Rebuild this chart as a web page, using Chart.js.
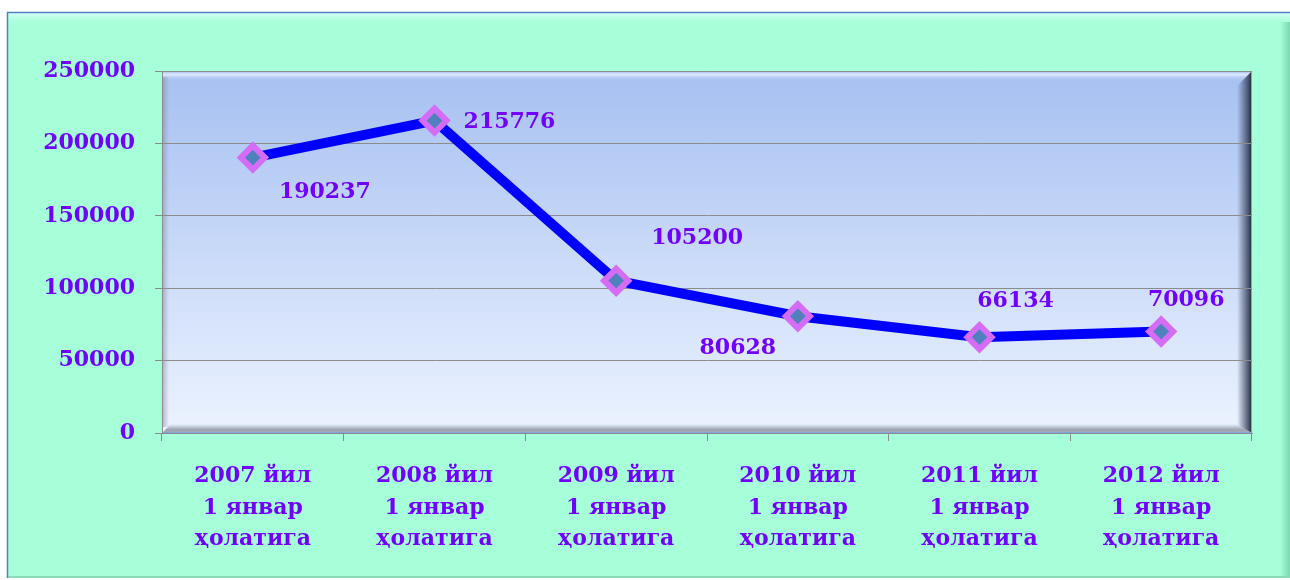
<!DOCTYPE html>
<html>
<head>
<meta charset="utf-8">
<script src="https://cdn.jsdelivr.net/npm/chart.js@4/dist/chart.umd.min.js"></script>
<style>
  html, body { margin: 0; padding: 0; background: #fff; }
  #wrap { width: 1290px; height: 580px; position: relative; }
</style>
</head>
<body>
<div id="wrap"><canvas id="chart" width="1290" height="580"></canvas></div>
<script>
// ------------------------------------------------------------
// data
// ------------------------------------------------------------
var categories = [
  ['2007 йил', '1 январ', 'ҳолатига'],
  ['2008 йил', '1 январ', 'ҳолатига'],
  ['2009 йил', '1 январ', 'ҳолатига'],
  ['2010 йил', '1 январ', 'ҳолатига'],
  ['2011 йил', '1 январ', 'ҳолатига'],
  ['2012 йил', '1 январ', 'ҳолатига']
];
var values = [190237, 215776, 105200, 80628, 66134, 70096];
var yTicks = [0, 50000, 100000, 150000, 200000, 250000];

var TEXT = '#7200FF';
var FONT = 'bold 22px "DejaVu Serif"';

// label placement relative to each point (dx, dy in px)
var labelOffsets = [[72, 35], [75, 2], [81, -42], [-60, 32], [36, -36], [25, -31]];

// background frame + bevelled plot area
var framePlugin = {
  id: 'frame',
  beforeDraw: function(chart) {
    var c = chart.ctx, a = chart.chartArea, g;
    c.save();
    c.fillStyle = '#fff';
    c.fillRect(0, 0, chart.width, chart.height);

    // outer green panel
    c.fillStyle = '#A6FFD8';
    c.fillRect(7, 12, 1283, 566);
    g = c.createLinearGradient(0, 13, 0, 26);
    g.addColorStop(0, '#D8FFF6');
    g.addColorStop(1, 'rgba(166,255,216,0)');
    c.fillStyle = g;
    c.fillRect(8, 13, 1282, 13);
    g = c.createLinearGradient(1280, 0, 1290, 0);
    g.addColorStop(0, 'rgba(120,220,180,0)');
    g.addColorStop(1, '#7BD9AE');
    c.fillStyle = g;
    c.fillRect(1280, 22, 10, 556);
    c.fillStyle = '#8ADDB8';
    c.fillRect(7, 576, 1283, 2);
    c.strokeStyle = '#4F81BD';
    c.lineWidth = 1.5;
    c.beginPath();
    c.moveTo(7.5, 578); c.lineTo(7.5, 12.5); c.lineTo(1290, 12.5);
    c.stroke();

    // plot area gradient
    var w = a.right - a.left, h = a.bottom - a.top;
    g = c.createLinearGradient(0, a.top, 0, a.bottom);
    g.addColorStop(0, '#A6C0F1');
    g.addColorStop(1, '#ECF3FF');
    c.fillStyle = g;
    c.fillRect(a.left, a.top, w, h);

    // top highlight
    g = c.createLinearGradient(0, a.top, 0, a.top + 10);
    g.addColorStop(0, '#9DB6E8');
    g.addColorStop(0.35, '#DDE9FF');
    g.addColorStop(1, 'rgba(170,195,242,0)');
    c.fillStyle = g;
    c.fillRect(a.left, a.top, w, 10);
    // left shade
    g = c.createLinearGradient(a.left, 0, a.left + 7, 0);
    g.addColorStop(0, 'rgba(120,130,150,0.55)');
    g.addColorStop(1, 'rgba(120,130,150,0)');
    c.fillStyle = g;
    c.fillRect(a.left, a.top + 6, 7, h - 12);
    // bottom shade
    g = c.createLinearGradient(0, a.bottom - 9, 0, a.bottom);
    g.addColorStop(0, 'rgba(110,115,130,0)');
    g.addColorStop(0.6, 'rgba(110,115,130,0.6)');
    g.addColorStop(1, 'rgba(150,155,165,0.8)');
    c.fillStyle = g;
    c.beginPath();
    c.moveTo(a.left, a.bottom); c.lineTo(a.left + 9, a.bottom - 9);
    c.lineTo(a.right - 14, a.bottom - 9); c.lineTo(a.right, a.bottom);
    c.closePath(); c.fill();
    // right dark edge
    g = c.createLinearGradient(a.right - 15, 0, a.right, 0);
    g.addColorStop(0, 'rgba(60,70,95,0)');
    g.addColorStop(0.6, 'rgba(60,70,95,0.7)');
    g.addColorStop(1, '#1E2433');
    c.fillStyle = g;
    c.beginPath();
    c.moveTo(a.right, a.top); c.lineTo(a.right - 15, a.top + 15);
    c.lineTo(a.right - 15, a.bottom - 9); c.lineTo(a.right, a.bottom);
    c.closePath(); c.fill();
    c.strokeStyle = '#7FA6D8';
    c.lineWidth = 1;
    c.strokeRect(a.left + 0.5, a.top + 0.5, w - 1, h - 1);
    c.restore();
  }
};

// value labels next to the points
var valueLabels = {
  id: 'valueLabels',
  afterDatasetsDraw: function(chart, args, opts) {
    var c = chart.ctx;
    var meta = chart.getDatasetMeta(0);
    c.save();
    c.font = FONT;
    c.fillStyle = TEXT;
    c.textAlign = 'center';
    c.textBaseline = 'middle';
    meta.data.forEach(function(pt, i) {
      var off = opts.offsets[i] || [0, -25];
      c.fillText(String(values[i]), pt.x + off[0], pt.y + off[1]);
    });
    c.restore();
  }
};

var ctx = document.getElementById('chart').getContext('2d');
new Chart(ctx, {
  type: 'line',
  data: {
    labels: categories,
    datasets: [{
      data: values,
      borderColor: '#0000FF',
      borderWidth: 10,
      tension: 0,
      pointStyle: 'rectRot',
      pointRadius: 12,
      pointHoverRadius: 12,
      pointBorderWidth: 6,
      pointBackgroundColor: '#4F81BD',
      pointBorderColor: '#D46CF5'
    }]
  },
  options: {
    responsive: false,
    animation: false,
    events: [],
    layout: { padding: { top: 71, right: 38, left: 0, bottom: 0 } },
    plugins: {
      legend: { display: false },
      tooltip: { enabled: false },
      valueLabels: { offsets: labelOffsets }
    },
    scales: {
      x: {
        offset: true,
        grid: { offset: true, drawOnChartArea: false, drawTicks: true, tickLength: 8, color: '#8C8C8C' },
        border: { color: '#8C8C8C', width: 1 },
        ticks: {
          color: TEXT,
          font: { family: 'DejaVu Serif', size: 22, weight: 'bold', lineHeight: 1.43 },
          padding: 20,
          maxRotation: 0,
          autoSkip: false
        },
        afterFit: function(s) { s.height = 147; }
      },
      y: {
        min: 0,
        max: 250000,
        afterBuildTicks: function(s) { s.ticks = yTicks.map(function(v) { return { value: v }; }); },
        grid: { color: '#8C8C8C', tickLength: 7, lineWidth: 1 },
        border: { color: '#8C8C8C', width: 1 },
        ticks: {
          color: TEXT,
          font: { family: 'DejaVu Serif', size: 22, weight: 'bold' },
          padding: 20,
          callback: function(v) { return String(v); }
        },
        afterFit: function(s) { s.width = 162; }
      }
    }
  },
  plugins: [framePlugin, valueLabels]
});
</script>
</body>
</html>
